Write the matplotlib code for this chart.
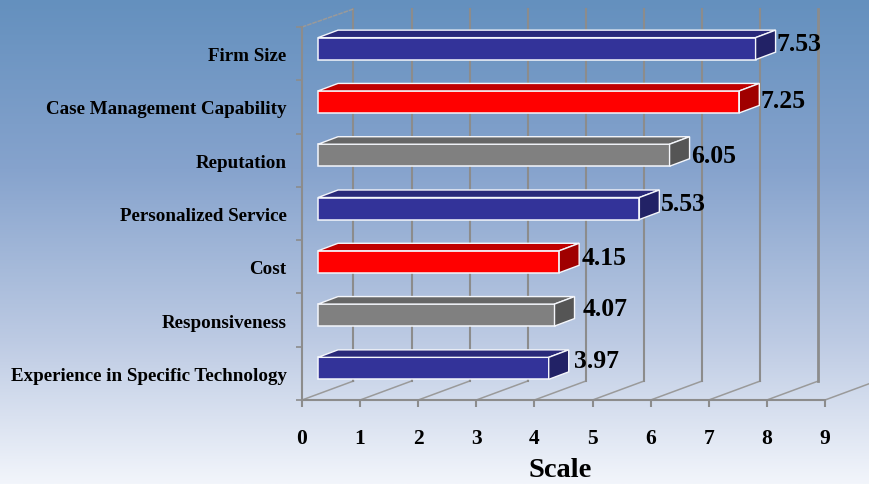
import matplotlib

matplotlib.use("agg")
import matplotlib.pyplot as plt
import numpy as np
from matplotlib.colors import LinearSegmentedColormap
from matplotlib.patches import Polygon

categories = [
    "Experience in Specific Technology",
    "Responsiveness",
    "Cost",
    "Personalized Service",
    "Reputation",
    "Case Management Capability",
    "Firm Size",
]
values = [3.97, 4.07, 4.15, 5.53, 6.05, 7.25, 7.53]
value_labels = ["3.97", "4.07", "4.15", "5.53", "6.05", "7.25", "7.53"]
xticks = list(range(10))

# front, top, side
BLUE = ("#333399", "#29297a", "#222266")
RED = ("#ff0000", "#c00000", "#a00000")
GRAY = ("#808080", "#666666", "#555555")
bar_colors = [BLUE, GRAY, RED, BLUE, GRAY, RED, BLUE]

# hand placed value labels in the original, pixel nudges (right, down)
nudge_x = [3, 6, 0, 0, 0, -1, -1]
nudge_y = [0, 1, 3, 3, 8, 6, 2]

GRID = "#8c8c8c"
W, H = 870, 485
X0, X9, FLOOR, WALL_TOP = 302, 825, 401, 28
PX_X = 9 / (X9 - X0)  # data units per pixel
PX_Y = 7 / (FLOOR - WALL_TOP)

plt.rcParams["font.family"] = ["Liberation Serif", "DejaVu Serif"]
plt.rcParams["font.weight"] = "bold"

fig = plt.figure(figsize=(W / 100, H / 100), dpi=100)

# background gradient
bg = fig.add_axes([0, 0, 1, 1], zorder=0)
bg.set_axis_off()
cmap = LinearSegmentedColormap.from_list(
    "bg", [(0, "#6490be"), (0.35, "#86a3cd"), (0.7, "#bccae3"), (1, "#f2f5fb")]
)
bg.imshow(np.linspace(0, 1, 256).reshape(-1, 1), cmap=cmap, aspect="auto")

ax = fig.add_axes(
    [X0 / W, 1 - FLOOR / H, (X9 - X0) / W, (FLOOR - WALL_TOP) / H], zorder=1
)
ax.patch.set_alpha(0)
ax.set_xlim(0, 9)
ax.set_ylim(-0.5, 6.5)

# depth of the back wall, in pixels
depth_x, depth_y = 51.5 * PX_X, 19 * PX_Y
top = 6.5 + (WALL_TOP - 10) * PX_Y

for x in xticks:
    ax.plot([x, x + depth_x], [-0.5, -0.5 + depth_y], color="#9a9a9a", lw=1.1,
            clip_on=False, zorder=1)
    if x < 9:
        ax.plot([x + depth_x] * 2, [-0.5 + depth_y, top], color=GRID,
                lw=2 if x == 8 else 1.5, clip_on=False, zorder=1)
ax.plot([0, depth_x], [6.5, top], color="#9a9a9a", lw=1.1, ls=(0, (3, 0.6)),
        clip_on=False, zorder=1)

# bars: front face plus sheared top and side
front_x, front_y = 16 * PX_X, 5 * PX_Y
ext_x, ext_y = 20 * PX_X, 7.5 * PX_Y
bar_h = 22 * PX_Y

for i, (val, lab, cols) in enumerate(zip(values, value_labels, bar_colors)):
    x0 = front_x
    x1 = front_x + val
    y0 = i + front_y - bar_h / 2
    y1 = y0 + bar_h
    ax.barh(y0, val, height=bar_h, left=x0, align="edge", color=cols[0],
            edgecolor="#f4f6fb", linewidth=1.1, zorder=3, clip_on=False)
    ax.add_patch(Polygon([(x0, y1), (x0 + ext_x, y1 + ext_y), (x1 + ext_x, y1 + ext_y), (x1, y1)],
                         facecolor=cols[1], edgecolor="#f4f6fb", lw=1, zorder=3, clip_on=False))
    ax.add_patch(Polygon([(x1, y0), (x1 + ext_x, y0 + ext_y), (x1 + ext_x, y1 + ext_y), (x1, y1)],
                         facecolor=cols[2], edgecolor="#f4f6fb", lw=1, zorder=3, clip_on=False))
    ax.text(x1 + ext_x + (2 + nudge_x[i]) * PX_X,
            (y0 + y1) / 2 + ext_y - nudge_y[i] * PX_Y,
            lab, fontsize=18.5, va="center", ha="left", color="black", zorder=4)

for side in ("top", "right"):
    ax.spines[side].set_visible(False)
for side in ("left", "bottom"):
    ax.spines[side].set_color(GRID)
    ax.spines[side].set_linewidth(1.5)

ax.set_xticks(xticks)
ax.tick_params(axis="x", length=5, width=1.5, color=GRID, pad=15.5, labelsize=15.5)
ax.set_yticks(range(len(categories)), labels=categories)
ax.tick_params(axis="y", which="major", length=0, pad=11, labelsize=13.65)
ax.set_yticks(np.arange(-0.5, 7), minor=True)
ax.tick_params(axis="y", which="minor", length=4, width=1.2, color=GRID)
ax.set_xlabel("Scale", fontsize=20.5, fontweight="bold", va="center")
ax.xaxis.set_label_coords((560 - X0) / (X9 - X0), (FLOOR - 471) / (FLOOR - WALL_TOP), transform=ax.transAxes)

fig.savefig("out.png", dpi=100)
